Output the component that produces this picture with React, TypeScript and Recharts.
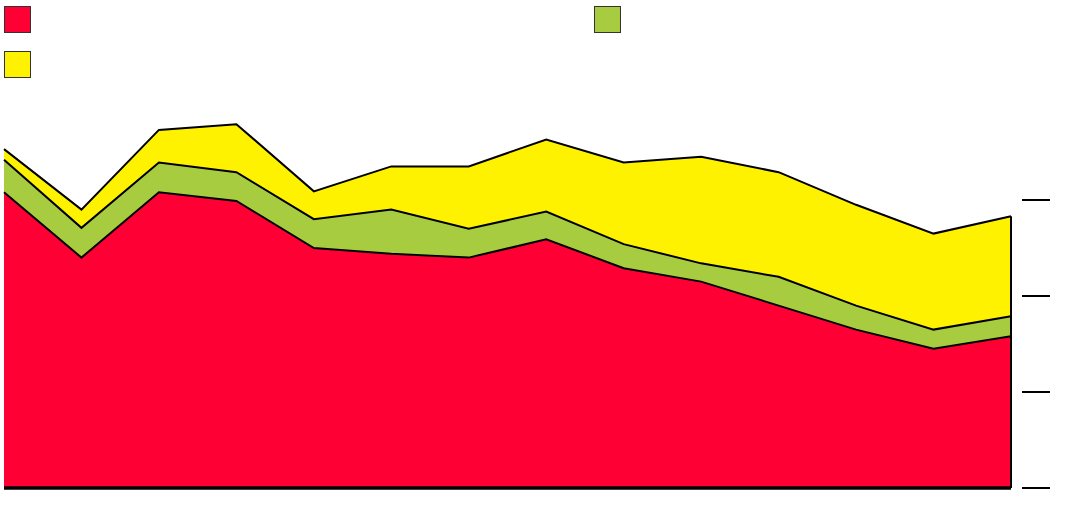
import {
  AreaChart,
  Area,
  XAxis,
  YAxis,
  Legend,
  ReferenceLine,
} from "recharts";

const categories = [
  "1", "2", "3", "4", "5", "6", "7",
  "8", "9", "10", "11", "12", "13", "14",
];
const redValues = [308, 240, 308, 299, 250, 244, 240, 259, 229, 215, 190, 165, 145, 158];
const greenValues = [34, 31, 31, 30, 30, 46, 30, 29, 25, 19, 30, 25, 20, 21];
const yellowValues = [11, 19, 34, 50, 29, 45, 65, 75, 85, 111, 109, 105, 100, 104];
const yTicks = [0, 100, 200, 300];

const seriesKeys = ["red", "green", "yellow"];
const seriesColors: Record<string, string> = {
  red: "#ff0035",
  green: "#a8cc40",
  yellow: "#fff200",
};

const data = categories.map((name, i) => ({
  name,
  red: redValues[i],
  green: greenValues[i],
  yellow: yellowValues[i],
}));

const lastIdx = categories.length - 1;
const firstTotal = redValues[0] + greenValues[0] + yellowValues[0];
const lastTotal = redValues[lastIdx] + greenValues[lastIdx] + yellowValues[lastIdx];

interface TickProps {
  x?: number;
  y?: number;
}

function DashTick({ x, y }: TickProps) {
  if (x == null || y == null) return null;
  return <line x1={x} x2={x + 28} y1={y} y2={y} stroke="#000" strokeWidth={2} />;
}

interface LegendEntry {
  value?: string;
  dataKey?: string;
}

function SquareLegend({ payload }: { payload?: LegendEntry[] }) {
  const keys = (payload || []).map((p) => String(p.dataKey ?? p.value));
  const ordered = seriesKeys.filter((k) => keys.includes(k));
  return (
    <div
      style={{
        display: "grid",
        gridTemplateColumns: "590px 590px",
        rowGap: 18,
        paddingTop: 6,
        paddingLeft: 4,
        height: 78,
        boxSizing: "border-box",
      }}
    >
      {ordered.map((k) => (
        <div
          key={k}
          style={{
            width: 27,
            height: 27,
            boxSizing: "border-box",
            background: seriesColors[k],
            border: "1px solid #333",
          }}
        />
      ))}
    </div>
  );
}

export default function App() {
  return (
    <div style={{ position: "absolute", left: 0, top: 0 }}>
      <AreaChart
        width={1080}
        height={518}
        data={data}
        margin={{ top: 26, right: 0, bottom: 30, left: 4 }}
      >
        <Legend
          verticalAlign="top"
          align="left"
          content={<SquareLegend />}
          wrapperStyle={{ top: 0, left: 0 }}
        />
        <XAxis
          dataKey="name"
          height={0}
          tick={false}
          tickLine={false}
          axisLine={false}
        />
        <YAxis
          orientation="right"
          width={69}
          domain={[0, 400]}
          ticks={yTicks}
          axisLine={false}
          tickLine={false}
          tickSize={0}
          tickMargin={11}
          tick={<DashTick />}
        />
        {/* fills first, then outlines on a second identical stack so no stroke gets covered */}
        {seriesKeys.map((k) => (
          <Area
            key={"fill-" + k}
            type="linear"
            dataKey={k}
            stackId="fill"
            stroke="none"
            fill={seriesColors[k]}
            fillOpacity={1}
            isAnimationActive={false}
          />
        ))}
        {seriesKeys.map((k) => (
          <Area
            key={"line-" + k}
            type="linear"
            dataKey={k}
            stackId="line"
            stroke="#000"
            strokeWidth={2}
            fill="none"
            legendType="none"
            isAnimationActive={false}
          />
        ))}
        <ReferenceLine
          segment={[
            { x: categories[0], y: 0 },
            { x: categories[0], y: firstTotal },
          ]}
          stroke="#777"
          strokeWidth={1}
        />
        <ReferenceLine
          segment={[
            { x: categories[lastIdx], y: 0 },
            { x: categories[lastIdx], y: lastTotal },
          ]}
          stroke="#000"
          strokeWidth={2}
        />
        <ReferenceLine y={0} stroke="#000" strokeWidth={3.5} />
      </AreaChart>
    </div>
  );
}
